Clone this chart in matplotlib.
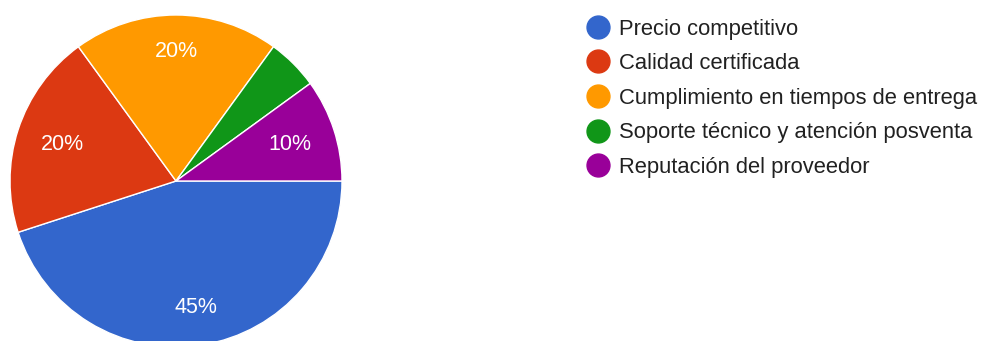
import numpy as np
import matplotlib.pyplot as plt
from matplotlib.lines import Line2D

plt.rcParams['font.family'] = ['Liberation Sans', 'DejaVu Sans']

# respuestas (%)
categorias = ['Precio competitivo', 'Calidad certificada',
              'Cumplimiento en tiempos de entrega',
              'Soporte técnico y atención posventa',
              'Reputación del proveedor']
porcentajes = [45, 20, 20, 5, 10]
colores = ['#3366cc', '#dc3912', '#ff9900', '#109618', '#990099']
# distancia de cada etiqueta al centro (fracción del radio)
dist_etiqueta = [0.77, 0.72, 0.78, 0.75, 0.72]

fig = plt.figure(figsize=(9.83, 3.41), dpi=100)
ax = fig.add_axes([10 / 983, -6 / 341, 332 / 983, 332 / 341])

wedges, _ = ax.pie(porcentajes, colors=colores, startangle=0,
                   counterclock=False, radius=1,
                   wedgeprops=dict(edgecolor='white', linewidth=1.0))
ax.set_xlim(-1, 1)
ax.set_ylim(-1, 1)
ax.axis('off')

# etiquetas de porcentaje (las porciones pequeñas no se rotulan)
for w, p, d in zip(wedges, porcentajes, dist_etiqueta):
    if p < 8:
        continue
    ang = np.deg2rad((w.theta1 + w.theta2) / 2)
    ax.text(d * np.cos(ang), d * np.sin(ang), f'{p}%', color='white',
            fontsize=15.5, ha='center', va='center')

handles = [Line2D([], [], marker='o', linestyle='', markersize=16.5,
                  markerfacecolor=c, markeredgecolor=c) for c in colores]
leg = fig.legend(handles, categorias, loc='upper left',
                 bbox_to_anchor=(587 / 983, 1 - 18.5 / 341), frameon=False,
                 fontsize=15.8, handlelength=1.0, handletextpad=0.45,
                 labelspacing=0.62, borderaxespad=0, borderpad=0)
for t in leg.get_texts():
    t.set_color('#212121')

fig.savefig('out.png', dpi=100)
